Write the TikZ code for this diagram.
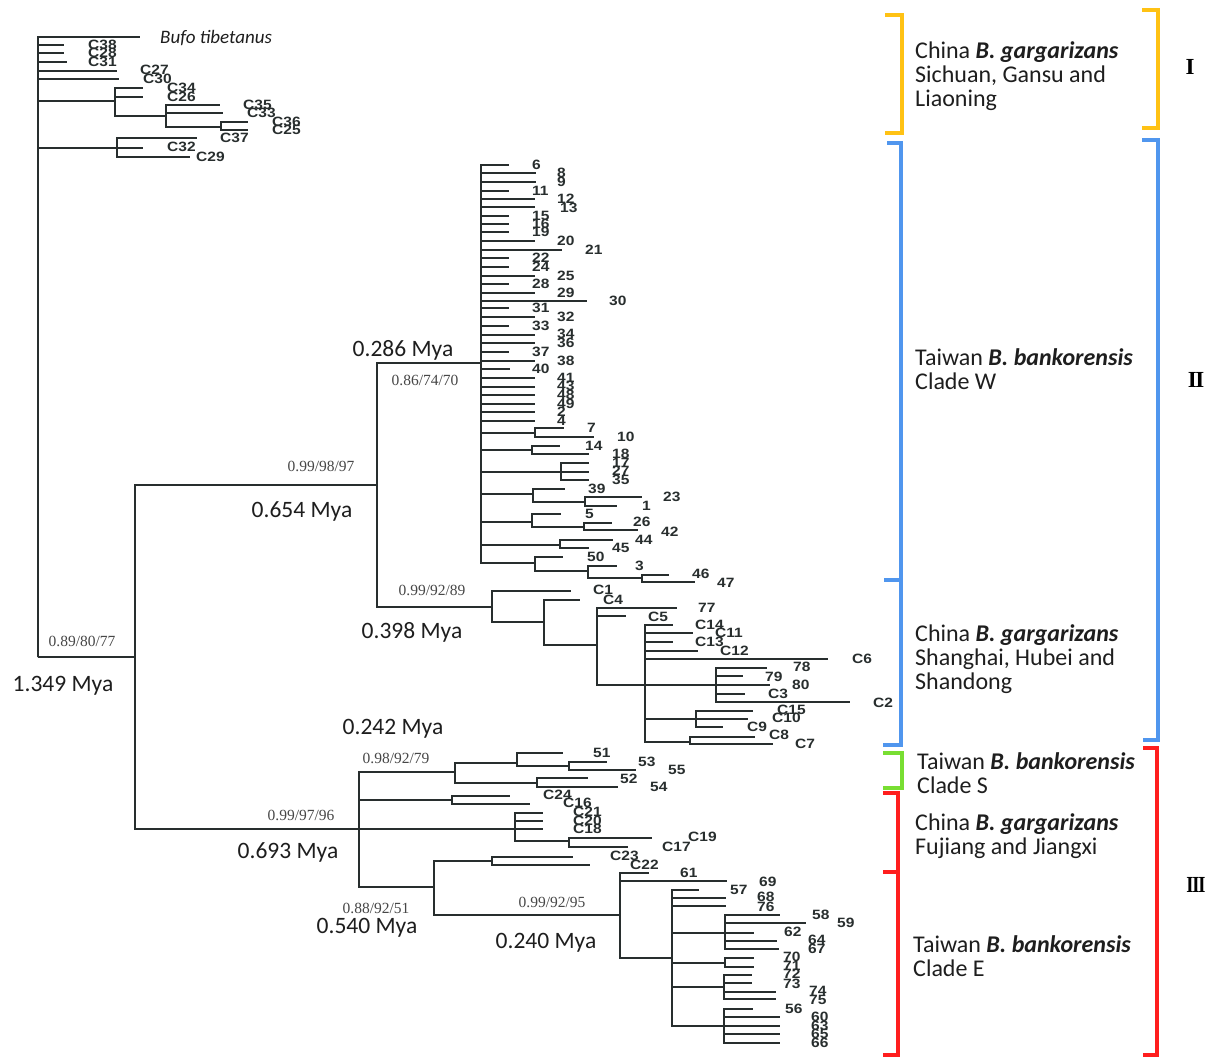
\documentclass[tikz,border=0pt]{standalone}
\usepackage{fontspec}
\usepackage{graphicx}
\setmainfont{Carlito}
\newfontfamily\tipfont{Liberation Sans}
\newfontfamily\supfont{Liberation Serif}
\definecolor{treec}{RGB}{40,46,46}
\definecolor{txtc}{RGB}{30,30,30}
\definecolor{byel}{RGB}{255,194,20}
\definecolor{bblue}{RGB}{80,150,238}
\definecolor{bgreen}{RGB}{120,222,50}
\definecolor{bred}{RGB}{255,30,30}
\newcommand\mytip[7]{\coordinate (#2) at (#3,#4); \draw[br] (#1) |- (#2); \node[tl] (#2l) at (#5,#6) {\scalebox{1.15}[1]{#7}};}
\newcommand\mynode[4]{\coordinate (#2) at (#3,#4); \draw[br] (#1) |- (#2);}
\newcommand\mylab[4]{\node[tl] (#1) at (#2,#3) {\scalebox{1.15}[1]{#4}};}
\begin{document}
\begin{tikzpicture}[x=1pt,y=-1pt,
  br/.style={line width=1.4pt,draw=treec},
  tl/.style={inner sep=0pt,anchor=west,text=treec,font=\tipfont\bfseries\fontsize{13.5}{13.5}\selectfont},
  mya/.style={font=\fontsize{23.5}{24}\selectfont,inner sep=0pt,text=txtc},
  sup/.style={font=\supfont\fontsize{15.5}{16}\selectfont,inner sep=0pt,text=black!72},
  clade/.style={font=\fontsize{24}{24}\selectfont,align=left,anchor=west,inner sep=0pt,text=txtc},
  roman/.style={font=\supfont\bfseries\fontsize{23}{23}\selectfont,inner sep=0pt,text=black},
  brk/.style={line width=4.5pt,line join=miter}]
\useasboundingbox (0,0) rectangle (1207,1058);
\fill[white] (0,0) rectangle (1207,1058);

% ---------- outgroup / clade I ----------
\coordinate (root) at (38,657);
\coordinate (tBufo) at (140,37); \draw[br] (root) |- (tBufo);
\node[inner sep=0pt,anchor=west,text=txtc,font=\itshape\fontsize{19}{19}\selectfont] (lBufo) at (160,38) {Bufo tibetanus};
\mytip{root}{tC38}{64}{45}{88}{45}{C38}
\mytip{root}{tC28}{64}{53}{88}{53}{C28}
\mytip{root}{tC31}{67}{62}{88}{62}{C31}
\mytip{root}{tC27}{117}{71}{140}{70}{C27}
\mytip{root}{tC30}{119}{79}{143}{79}{C30}
\mynode{root}{n115}{115}{101}
\mytip{n115}{tC34}{143}{88}{167}{88}{C34}
\mytip{n115}{tC26}{143}{97}{167}{97}{C26}
\mynode{n115}{n166}{166}{116}
\mytip{n166}{tC35}{220}{105}{243}{105}{C35}
\mytip{n166}{tC33}{223}{113}{247}{113}{C33}
\mynode{n166}{n221}{221}{127}
\mytip{n221}{tC36}{248}{122}{272}{122}{C36}
\mytip{n221}{tC25}{248}{130}{272}{130}{C25}
\mylab{lC37}{220}{138}{C37}
\mynode{root}{n117}{117}{148}
\mynode{n117}{b117a}{197}{138}
\mynode{n117}{b117b}{143}{148}
\mynode{n117}{b117c}{190}{157}
\mylab{lC32}{167}{147}{C32}
\mylab{lC29}{196}{157}{C29}

% ---------- main split ----------
\mynode{root}{n135}{135}{657}
\mynode{n135}{n377}{377}{485}
\mynode{n377}{nW}{481}{363}
\mynode{n377}{nC}{492}{607}
\mynode{n135}{n359}{359}{829}

% ---------- clade W ----------
\mytip{nW}{t6}{509}{165}{532}{165}{6}
\mytip{nW}{t8}{536}{173}{557}{173}{8}
\mytip{nW}{t9}{536}{182}{557}{182}{9}
\mytip{nW}{t11}{509}{191}{532}{191}{11}
\mytip{nW}{t12}{535}{199}{557}{199}{12}
\mytip{nW}{t13}{535}{207}{560}{208}{13}
\mytip{nW}{t15}{509}{216}{532}{216}{15}
\mytip{nW}{t16}{509}{224}{532}{224}{16}
\mytip{nW}{t19}{509}{232}{532}{232}{19}
\mytip{nW}{t20}{535}{241}{557}{241}{20}
\mytip{nW}{t21}{562}{250}{585}{250}{21}
\mytip{nW}{t22}{509}{258}{532}{258}{22}
\mytip{nW}{t24}{509}{267}{532}{267}{24}
\mytip{nW}{t25}{535}{276}{557}{276}{25}
\mytip{nW}{t28}{509}{284}{532}{284}{28}
\mytip{nW}{t29}{535}{293}{557}{293}{29}
\mytip{nW}{t30}{587}{301}{609}{301}{30}
\mytip{nW}{t31}{509}{308}{532}{308}{31}
\mytip{nW}{t32}{535}{317}{557}{317}{32}
\mytip{nW}{t33}{509}{326}{532}{326}{33}
\mytip{nW}{t34}{535}{335}{557}{334}{34}
\mytip{nW}{t36}{535}{343}{557}{343}{36}
\mytip{nW}{t37}{509}{352}{532}{352}{37}
\mytip{nW}{t38}{535}{361}{557}{361}{38}
\mytip{nW}{t40}{510}{369}{532}{369}{40}
\mytip{nW}{t41}{535}{378}{557}{378}{41}
\mytip{nW}{t43}{535}{387}{557}{386}{43}
\mytip{nW}{t48}{535}{395}{557}{395}{48}
\mytip{nW}{t49}{535}{404}{557}{404}{49}
\mytip{nW}{t2}{535}{412}{557}{412}{2}
\mytip{nW}{t4}{535}{421}{557}{421}{4}
\mynode{nW}{n7}{535}{433}
\mytip{n7}{t7}{564}{428}{587}{428}{7}
\mytip{n7}{t10}{594}{437}{617}{437}{10}
\mynode{nW}{n14}{532}{450}
\mytip{n14}{t14}{560}{446}{585}{446}{14}
\mytip{n14}{t18}{589}{454}{612}{454}{18}
\mynode{nW}{n17}{561}{472}
\mytip{n17}{t17}{589}{463}{612}{463}{17}
\mytip{n17}{t27}{589}{472}{612}{471}{27}
\mytip{n17}{t35}{589}{480}{612}{480}{35}
\mynode{nW}{n39}{533}{494}
\mytip{n39}{t39}{565}{489}{588}{489}{39}
\mynode{n39}{n23}{585}{502}
\mytip{n23}{t23}{642}{497}{663}{497}{23}
\mytip{n23}{t1}{617}{506}{642}{506}{1}
\mynode{nW}{n5}{532}{522}
\mytip{n5}{t5}{561}{514}{585}{514}{5}
\mynode{n5}{n26}{584}{527}
\mytip{n26}{t26}{612}{523}{633}{522}{26}
\mytip{n26}{t42}{638}{530}{661}{532}{42}
\mynode{nW}{n44}{560}{545}
\mytip{n44}{t44}{613}{540}{635}{540}{44}
\mytip{n44}{t45}{589}{548}{612}{548}{45}
\mynode{nW}{n50}{535}{563}
\mytip{n50}{t50}{563}{557}{587}{557}{50}
\mynode{n50}{n3}{588}{571}
\mytip{n3}{t3}{617}{566}{635}{566}{3}
\mynode{n3}{n46}{642}{578}
\mytip{n46}{t46}{669}{575}{692}{574}{46}
\mytip{n46}{t47}{695}{582}{717}{583}{47}

% ---------- China Shanghai/Hubei/Shandong ----------
\mytip{nC}{tC1}{571}{591}{593}{590}{C1}
\mynode{nC}{n544}{544}{622}
\mytip{n544}{tC4}{580}{600}{603}{600}{C4}
\mynode{n544}{n597}{597}{645}
\mytip{n597}{t77}{677}{608}{698}{608}{77}
\mynode{n597}{b616}{626}{616}
\mylab{lC5}{648}{617}{C5}
\mynode{n597}{n645}{645}{685}
\mynode{n645}{b625}{673}{625}
\mynode{n645}{b633}{693}{633}
\mynode{n645}{b642}{673}{642}
\mynode{n645}{b651}{698}{651}
\mylab{lC14}{695}{625}{C14}
\mylab{lC11}{715}{633}{C11}
\mylab{lC13}{695}{642}{C13}
\mylab{lC12}{720}{651}{C12}
\mytip{n645}{tC6}{828}{659}{852}{659}{C6}
\mynode{n645}{n716}{716}{685}
\mytip{n716}{t78}{767}{668}{793}{667}{78}
\mytip{n716}{t79}{743}{676}{765}{677}{79}
\mytip{n716}{t80}{770}{685}{792}{685}{80}
\mytip{n716}{tC3}{745}{694}{768}{694}{C3}
\mytip{n716}{tC2}{850}{702}{873}{703}{C2}
\mynode{n645}{n696}{696}{719}
\mytip{n696}{tC15}{753}{711}{777}{710}{C15}
\mytip{n696}{tC10}{748}{719}{772}{718}{C10}
\mytip{n696}{tC9}{723}{727}{747}{727}{C9}
\mynode{n645}{n690}{690}{742}
\mytip{n690}{tC8}{755}{737}{769}{735}{C8}
\mytip{n690}{tC7}{773}{744}{795}{744}{C7}

% ---------- clade III ----------
\mynode{n359}{nS}{455}{772}
\mynode{nS}{n517}{517}{763}
\mytip{n517}{t51}{563}{753}{593}{753}{51}
\mynode{n517}{n569}{569}{766}
\mytip{n569}{t53}{607}{762}{638}{762}{53}
\mytip{n569}{t55}{636}{770}{668}{770}{55}
\mynode{nS}{n537}{537}{783}
\mytip{n537}{t52}{588}{778}{620}{779}{52}
\mytip{n537}{t54}{618}{787}{650}{787}{54}
\mynode{n359}{n452}{452}{800}
\mytip{n452}{tC24}{510}{796}{543}{795}{C24}
\mytip{n452}{tC16}{530}{804}{563}{803}{C16}
\mynode{n359}{n515}{515}{829}
\mytip{n515}{tC21}{543}{813}{573}{812}{C21}
\mytip{n515}{tC20}{543}{821}{573}{821}{C20}
\mytip{n515}{tC18}{543}{829}{573}{829}{C18}
\mynode{n515}{n569b}{569}{841}
\mytip{n569b}{tC19}{652}{838}{688}{837}{C19}
\mytip{n569b}{tC17}{628}{847}{662}{847}{C17}
\mynode{n359}{n434}{434}{887}
\mynode{n434}{n492}{492}{861}
\mytip{n492}{tC23}{573}{857}{610}{856}{C23}
\mytip{n492}{tC22}{590}{865}{630}{865}{C22}
\mynode{n434}{n620}{620}{915}
\mytip{n620}{t61}{649}{873}{680}{873}{61}
\mytip{n620}{t69}{727}{881}{759}{882}{69}
\mynode{n620}{n672}{672}{958}
\mytip{n672}{t57}{699}{890}{730}{890}{57}
\mytip{n672}{t68}{726}{898}{757}{897}{68}
\mytip{n672}{t76}{726}{906}{757}{907}{76}
\mynode{n672}{n725a}{725}{933}
\mytip{n725a}{t58}{780}{915}{812}{915}{58}
\mytip{n725a}{t59}{806}{923}{837}{923}{59}
\mytip{n725a}{t62}{754}{933}{784}{932}{62}
\mytip{n725a}{t64}{777}{941}{808}{940}{64}
\mytip{n725a}{t67}{779}{949}{808}{949}{67}
\mynode{n672}{n725b}{725}{963}
\mytip{n725b}{t70}{754}{958}{783}{957}{70}
\mytip{n725b}{t71}{754}{967}{783}{966}{71}
\mynode{n672}{n724c}{724}{987}
\mytip{n724c}{t72}{752}{975}{783}{974}{72}
\mytip{n724c}{t73}{752}{983}{783}{984}{73}
\mytip{n724c}{t74}{776}{992}{809}{991}{74}
\mytip{n724c}{t75}{776}{999}{809}{1000}{75}
\mynode{n672}{n724d}{724}{1026}
\mytip{n724d}{t56}{753}{1009}{785}{1009}{56}
\mytip{n724d}{t60}{780}{1017}{811}{1017}{60}
\mytip{n724d}{t63}{780}{1026}{811}{1026}{63}
\mytip{n724d}{t65}{780}{1034}{811}{1034}{65}
\mytip{n724d}{t66}{780}{1043}{811}{1043}{66}

% ---------- node annotations ----------
\node[mya] (a286) at (403,350) {0.286 Mya};
\node[sup] (s286) at (425,380) {0.86/74/70};
\node[sup] (s654) at (321,466) {0.99/98/97};
\node[mya] (a654) at (302,511) {0.654 Mya};
\node[sup] (s398) at (432,590) {0.99/92/89};
\node[mya] (a398) at (412,632) {0.398 Mya};
\node[sup] (s1349) at (82,641) {0.89/80/77};
\node[mya] (a1349) at (63,686) {1.349 Mya};
\node[mya] (a242) at (393,729) {0.242 Mya};
\node[sup] (s242) at (396,758) {0.98/92/79};
\node[sup] (s693) at (301,815) {0.99/97/96};
\node[mya] (a693) at (288,852) {0.693 Mya};
\node[sup] (s540) at (376,908) {0.88/92/51};
\node[mya] (a540) at (367,928) {0.540 Mya};
\node[sup] (s240) at (552,902) {0.99/92/95};
\node[mya] (a240) at (546,943) {0.240 Mya};

% ---------- brackets ----------
\draw[brk,byel] (885,15) -- (902,15) -- (902,133) -- (885,133);
\draw[brk,byel] (1142,10) -- (1158,10) -- (1158,128) -- (1142,128);
\draw[brk,bblue] (887,143) -- (901,143) -- (901,745) -- (883,745);
\draw[brk,bblue] (884,580) -- (901,580);
\draw[brk,bblue] (1142,140) -- (1158,140) -- (1158,740) -- (1143,740);
\draw[brk,bgreen] (883,753) -- (902,753) -- (902,788) -- (883,788);
\draw[brk,bred] (883,793) -- (898,793) -- (898,1055) -- (883,1055);
\draw[brk,bred] (883,872) -- (898,872);
\draw[brk,bred] (1143,748) -- (1157,748) -- (1157,1055) -- (1143,1055);

% ---------- clade labels ----------
\node[clade] (g1) at (915,76) {China \textbf{\textit{B. gargarizans}}\\Sichuan, Gansu and\\Liaoning};
\node[clade] (g2) at (915,369) {Taiwan \textbf{\textit{B. bankorensis}}\\Clade W};
\node[clade] (g3) at (915,659) {China \textbf{\textit{B. gargarizans}}\\Shanghai, Hubei and\\Shandong};
\node[clade] (g4) at (917,773) {Taiwan \textbf{\textit{B. bankorensis}}\\Clade S};
\node[clade] (g5) at (915,836) {China \textbf{\textit{B. gargarizans}}\\Fujiang and Jiangxi};
\node[clade] (g6) at (913,956) {Taiwan \textbf{\textit{B. bankorensis}}\\Clade E};
\node[roman] (r1) at (1190,67) {I};
\node[roman] (r2) at (1196,380) {I\kern-1.5pt I};
\node[roman] (r3) at (1196,885) {\scalebox{0.8}[1]{I\kern-1.5pt I\kern-1.5pt I}};
\end{tikzpicture}
\end{document}
